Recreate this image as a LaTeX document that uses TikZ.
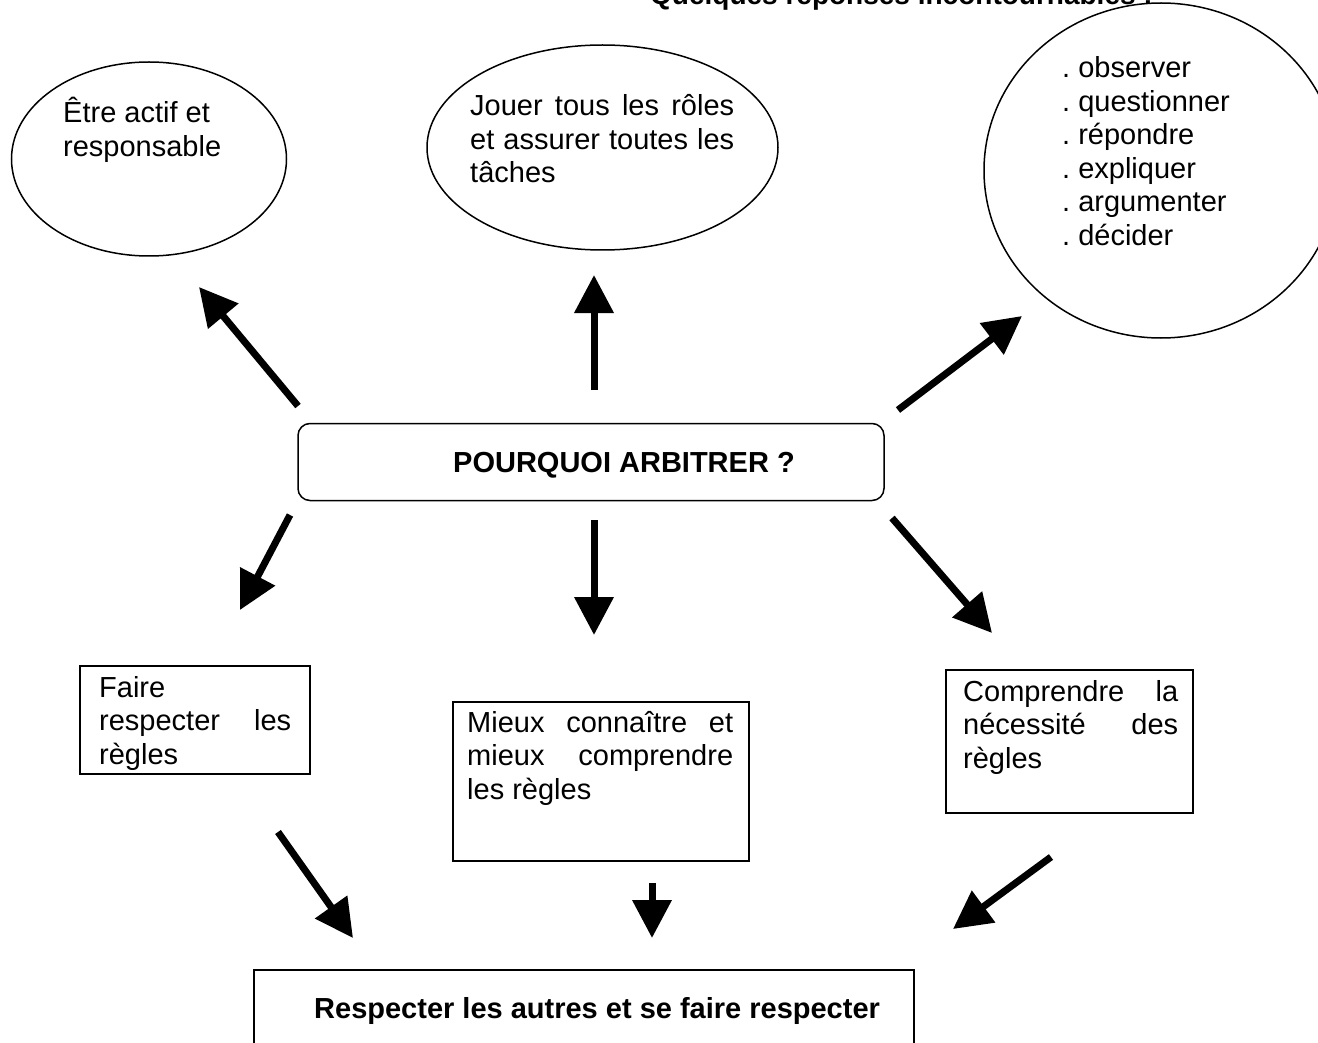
\documentclass[tikz,border=0pt]{standalone}
\usepackage{fontspec}
\setmainfont{Liberation Sans}
\usetikzlibrary{arrows.meta,shapes.geometric}
\frenchspacing
\begin{document}
\begin{tikzpicture}[x=1pt,y=-1pt,
  outline/.style={draw, line width=1.5pt, inner sep=0pt},
  txt/.style={inner sep=0pt, anchor=base west, font=\fontsize{29}{33.5}\selectfont},
  boldtxt/.style={inner sep=0pt, anchor=base west, font=\bfseries\fontsize{29}{33.5}\selectfont},
  bigarrow/.style={line width=7pt, -{Triangle[length=38pt,width=38pt]}},
]
\useasboundingbox (0,0) rectangle (1318,1043);
\clip (0,0) rectangle (1318,1043);

% title (cut off at top)
\node[boldtxt, font=\bfseries\fontsize{28}{33}\selectfont] (title) at (650,5) {Quelques réponses incontournables :};

% ellipses
\node[outline, ellipse, minimum width=275pt, minimum height=194pt] (e1) at (149,159) {};
\node[outline, ellipse, minimum width=351pt, minimum height=205pt] (e2) at (602.5,147.5) {};
\node[outline, ellipse, minimum width=354pt, minimum height=335pt] (e3) at (1161,170.5) {};

\node[txt] (t1) at (63,123) {\parbox[t]{250pt}{Être actif et\\responsable}};
\node[txt] (t2) at (470,116) {\parbox[t]{264pt}{\makebox[264pt][s]{Jouer tous les rôles}\\\makebox[264pt][s]{et assurer toutes les}\\tâches}};
\node[txt] (t3) at (1062,78) {\parbox[t]{250pt}{. observer\\. questionner\\. répondre\\. expliquer\\. argumenter\\. décider}};

% centre
\node[outline, rounded corners=12pt, minimum width=586pt, minimum height=77pt] (c) at (591,462) {};
\node[boldtxt] (ct) at (453,472) {POURQUOI ARBITRER ?};

% lower boxes
\node[outline, minimum width=230pt, minimum height=108pt] (b1) at (195,720) {};
\node[txt] (bt1) at (99,697) {\parbox[t]{192pt}{Faire\\\makebox[192pt][s]{respecter les}\\règles}};

\node[outline, minimum width=296pt, minimum height=159pt] (b2) at (601,781.5) {};
\node[txt] (bt2) at (467,732) {\parbox[t]{266pt}{\makebox[266pt][s]{Mieux connaître et}\\\makebox[266pt][s]{mieux comprendre}\\les règles}};

\node[outline, minimum width=247pt, minimum height=143pt] (b3) at (1069.5,741.5) {};
\node[txt] (bt3) at (963,701) {\parbox[t]{215pt}{\makebox[215pt][s]{Comprendre la}\\\makebox[215pt][s]{nécessité des}\\règles}};

% bottom box
\node[outline, minimum width=660pt, minimum height=160pt] (b4) at (584,1050) {};
\node[boldtxt] (bt4) at (314,1018) {Respecter les autres et se faire respecter};

% arrow end points
\coordinate (a1s) at (298,406);  \coordinate (a1e) at (199,287);
\coordinate (a2s) at (594,390);  \coordinate (a2e) at (594,275);
\coordinate (a3s) at (898,410);  \coordinate (a3e) at (1022,316);
\coordinate (a4s) at (290,515);  \coordinate (a4e) at (240,610);
\coordinate (a5s) at (594,520);  \coordinate (a5e) at (594,635);
\coordinate (a6s) at (892,518);  \coordinate (a6e) at (992,633);
\coordinate (a7s) at (278,832);  \coordinate (a7e) at (353,938);
\coordinate (a8s) at (652,883);  \coordinate (a8e) at (652,938);
\coordinate (a9s) at (1051,857); \coordinate (a9e) at (953,929);

\foreach \i in {1,...,9} {\draw[bigarrow] (a\i s) -- (a\i e);}
\end{tikzpicture}
\end{document}
